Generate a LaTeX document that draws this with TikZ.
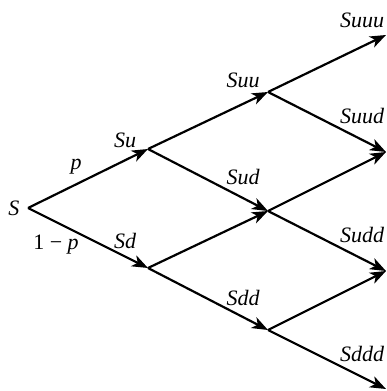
\documentclass[tikz,border=0pt]{standalone}
\usepackage{fontspec}
\setmainfont{Liberation Serif}
\usetikzlibrary{arrows.meta}
\begin{document}
\begin{tikzpicture}[x=1pt,y=-1pt,
  edge/.style={line width=2.2pt, -{Stealth[length=16pt,width=12pt,inset=4.5pt]}},
  lab/.style={font=\fontsize{22}{26}\selectfont\itshape, inner sep=0pt}]
\useasboundingbox (0,0) rectangle (387,391);
\coordinate (n0) at (28,208);
\coordinate (u) at (148,149);
\coordinate (d) at (148,268);
\coordinate (uu) at (268,92);
\coordinate (ud) at (268,211);
\coordinate (dd) at (268,330);
\coordinate (uuu) at (386,35);
\coordinate (uud) at (386,152);
\coordinate (udd) at (386,271);
\coordinate (ddd) at (386,389);
\draw[edge] (n0) -- (u);
\draw[edge] (n0) -- (d);
\draw[edge] (u) -- (uu);
\draw[edge] (u) -- (ud);
\draw[edge] (d) -- (ud);
\draw[edge] (d) -- (dd);
\draw[edge] (uu) -- (uuu);
\draw[edge] (uu) -- (uud);
\draw[edge] (ud) -- (uud);
\draw[edge] (ud) -- (udd);
\draw[edge] (dd) -- (udd);
\draw[edge] (dd) -- (ddd);
\node[lab] (lS) at (14,208) {S};
\node[lab] (lp) at (76,167) {p};
\node[lab] (lq) at (56,245) {{\upshape 1 − }p};
\node[lab] (lSu) at (125,140) {Su};
\node[lab] (lSd) at (125,241) {Sd};
\node[lab] (lSuu) at (243,80) {Suu};
\node[lab] (lSud) at (243,177) {Sud};
\node[lab] (lSdd) at (243,298) {Sdd};
\node[lab] (lSuuu) at (362,20) {Suuu};
\node[lab] (lSuud) at (362,116) {Suud};
\node[lab] (lSudd) at (362,235) {Sudd};
\node[lab] (lSddd) at (362,354) {Sddd};
\end{tikzpicture}
\end{document}
